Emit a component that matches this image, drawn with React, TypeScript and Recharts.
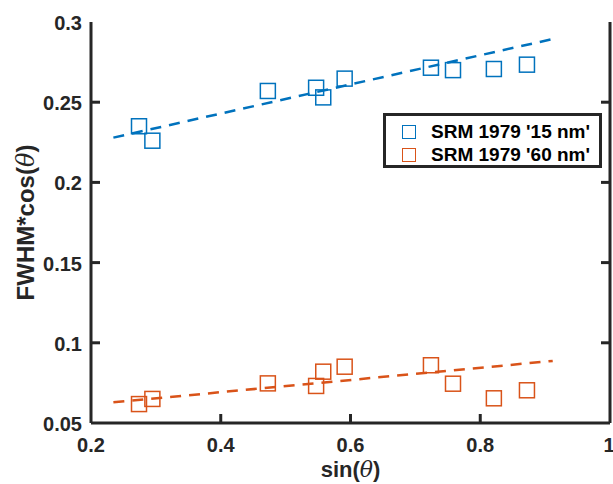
import React from 'react';
import { ComposedChart, Scatter, XAxis, YAxis, Legend } from 'recharts';

// sin(theta) positions of the measured peaks
const sinTheta = [0.274, 0.2946, 0.4726, 0.547, 0.558, 0.591, 0.724, 0.758, 0.821, 0.872];
// FWHM*cos(theta) values per sample
const fwhm15 = [0.235, 0.226, 0.257, 0.259, 0.253, 0.2647, 0.2715, 0.270, 0.2707, 0.2734];
const fwhm60 = [0.0618, 0.065, 0.0747, 0.0731, 0.082, 0.0851, 0.086, 0.0745, 0.0654, 0.0704];
// Linear fit endpoints
const fitX = [0.2345, 0.9117];
const fit15 = [0.2279, 0.2894];
const fit60 = [0.0629, 0.0887];

const xTicks = [0.2, 0.4, 0.6, 0.8, 1];
const yTicks = [0.05, 0.1, 0.15, 0.2, 0.25, 0.3];

const BLUE = '#0072BD';
const ORANGE = '#D95319';
const AXIS = '#262626';
const FONT = '"Liberation Sans", Arial, Helvetica, sans-serif';

const pts15 = sinTheta.map((x, i) => ({ x, y: fwhm15[i] }));
const pts60 = sinTheta.map((x, i) => ({ x, y: fwhm60[i] }));
const line15 = fitX.map((x, i) => ({ x, y: fit15[i] }));
const line60 = fitX.map((x, i) => ({ x, y: fit60[i] }));

const fmt = (v: number) => String(v);

const Square = (color: string) => (props: any) => {
  const { cx, cy } = props;
  if (cx == null || cy == null) return <g />;
  const s = 15;
  return (
    <rect x={cx - s / 2} y={cy - s / 2} width={s} height={s} fill="none" stroke={color} strokeWidth={1.5} />
  );
};

const NoDot = () => <g />;

const isEnd = (v: number, arr: number[]) => v === arr[0] || v === arr[arr.length - 1];

const BottomTick = (props: any) => {
  const { x, y, payload } = props;
  return (
    <g>
      {!isEnd(payload.value, xTicks) && <line x1={x} x2={x} y1={y} y2={y - 9} stroke={AXIS} strokeWidth={3} />}
      <text x={x} y={y + 29} textAnchor="middle" fontFamily={FONT} fontWeight="bold" fontSize={20} fill={AXIS}>
        {fmt(payload.value)}
      </text>
    </g>
  );
};

const TopTick = (props: any) => {
  const { x, y, payload } = props;
  if (isEnd(payload.value, xTicks)) return <g />;
  return <line x1={x} x2={x} y1={y} y2={y + 9} stroke={AXIS} strokeWidth={3} />;
};

const LeftTick = (props: any) => {
  const { x, y, payload } = props;
  return (
    <g>
      {!isEnd(payload.value, yTicks) && <line x1={x} x2={x + 9} y1={y} y2={y} stroke={AXIS} strokeWidth={3} />}
      <text x={x - 9} y={y + 8} textAnchor="end" fontFamily={FONT} fontWeight="bold" fontSize={20} fill={AXIS}>
        {fmt(payload.value)}
      </text>
    </g>
  );
};

const RightTick = (props: any) => {
  const { x, y, payload } = props;
  if (isEnd(payload.value, yTicks)) return <g />;
  return <line x1={x} x2={x - 9} y1={y} y2={y} stroke={AXIS} strokeWidth={3} />;
};

const XLabel = (props: any) => {
  const vb = props.viewBox;
  const cx = vb.x + vb.width / 2;
  return (
    <text x={cx} y={477} textAnchor="middle" fontFamily={FONT} fontWeight="bold" fontSize={22} fill={AXIS}>
      sin(<tspan fontStyle="italic" fontWeight="normal" fontFamily="'DejaVu Serif', serif">θ</tspan>)
    </text>
  );
};

const YLabel = (props: any) => {
  const vb = props.viewBox;
  const cy = vb.y + vb.height / 2;
  const cx = 34;
  return (
    <text
      x={cx}
      y={cy}
      transform={`rotate(-90 ${cx} ${cy})`}
      textAnchor="middle"
      fontFamily={FONT}
      fontWeight="bold"
      fontSize={24}
      fill={AXIS}
    >
      FWHM*cos(<tspan fontStyle="italic" fontWeight="normal" fontFamily="'DejaVu Serif', serif">θ</tspan>)
    </text>
  );
};

const legendItems = [
  { label: "SRM 1979 '15 nm'", color: BLUE },
  { label: "SRM 1979 '60 nm'", color: ORANGE },
];

const LegendBox = () => (
  <div
    style={{
      border: `3px solid ${AXIS}`,
      background: '#fff',
      width: 219,
      height: 55,
      boxSizing: 'border-box',
      padding: '4px 0 0 16px',
      fontFamily: FONT,
      fontWeight: 'bold',
      fontSize: 19,
      color: '#000',
    }}
  >
    {legendItems.map((it) => (
      <div key={it.label} style={{ display: 'flex', alignItems: 'center', height: 23 }}>
        <span
          style={{
            display: 'inline-block',
            width: 14,
            height: 14,
            border: `1.5px solid ${it.color}`,
            boxSizing: 'border-box',
            marginRight: 15,
          }}
        />
        <span>{it.label}</span>
      </div>
    ))}
  </div>
);

export default function App() {
  return (
    <div style={{ position: 'absolute', left: 0, top: 0, background: '#fff' }}>
      <ComposedChart width={613} height={484} margin={{ top: 22, right: 2, bottom: 0, left: 0 }}>
        <XAxis
          xAxisId="b"
          dataKey="x"
          type="number"
          domain={[0.2, 1]}
          ticks={xTicks}
          allowDataOverflow
          height={61}
          tickSize={0}
          tickMargin={0}
          tickLine={false}
          tick={<BottomTick />}
          axisLine={{ stroke: AXIS, strokeWidth: 3 }}
          label={<XLabel />}
        />
        <XAxis
          xAxisId="t"
          orientation="top"
          dataKey="x"
          type="number"
          domain={[0.2, 1]}
          ticks={xTicks}
          allowDataOverflow
          height={0}
          tickSize={0}
          tickMargin={0}
          tickLine={false}
          tick={<TopTick />}
          axisLine={{ stroke: AXIS, strokeWidth: 3 }}
        />
        <YAxis
          yAxisId="l"
          dataKey="y"
          type="number"
          domain={[0.05, 0.3]}
          ticks={yTicks}
          allowDataOverflow
          width={91}
          tickSize={0}
          tickMargin={0}
          tickLine={false}
          tick={<LeftTick />}
          axisLine={{ stroke: AXIS, strokeWidth: 3 }}
          label={<YLabel />}
        />
        <YAxis
          yAxisId="r"
          orientation="right"
          dataKey="y"
          type="number"
          domain={[0.05, 0.3]}
          ticks={yTicks}
          allowDataOverflow
          width={1}
          tickSize={0}
          tickMargin={0}
          tickLine={false}
          tick={<RightTick />}
          axisLine={{ stroke: AXIS, strokeWidth: 3 }}
        />
        <Scatter
          xAxisId="b"
          yAxisId="l"
          data={line15}
          line={{ stroke: BLUE, strokeWidth: 2.5, strokeDasharray: '11 8' }}
          shape={NoDot}
          isAnimationActive={false}
          legendType="none"
        />
        <Scatter
          xAxisId="b"
          yAxisId="l"
          data={line60}
          line={{ stroke: ORANGE, strokeWidth: 2.5, strokeDasharray: '11 8' }}
          shape={NoDot}
          isAnimationActive={false}
          legendType="none"
        />
        <Scatter xAxisId="b" yAxisId="l" data={pts15} shape={Square(BLUE)} isAnimationActive={false} />
        <Scatter xAxisId="b" yAxisId="l" data={pts60} shape={Square(ORANGE)} isAnimationActive={false} />
        <Legend
          layout="vertical"
          align="center"
          verticalAlign="middle"
          content={<LegendBox />}
          wrapperStyle={{ position: 'absolute', left: 383, top: 113, width: 219, height: 55 }}
        />
      </ComposedChart>
    </div>
  );
}
